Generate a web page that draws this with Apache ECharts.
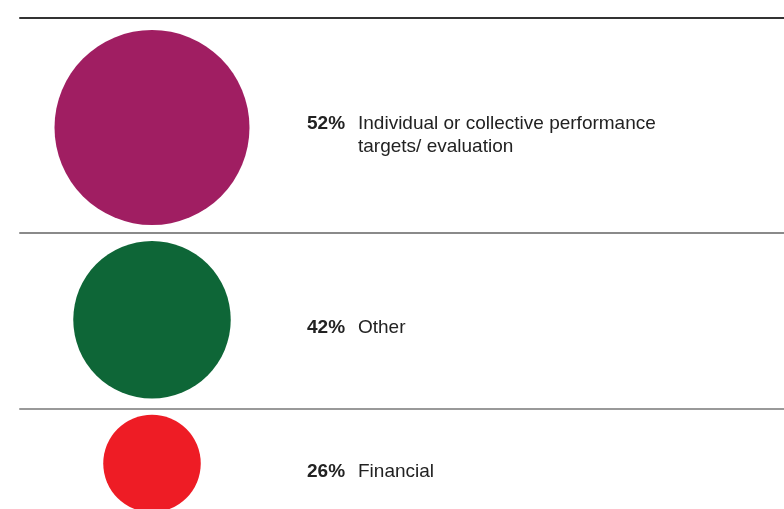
<!DOCTYPE html>
<html><head><meta charset="utf-8">
<script src="https://cdn.jsdelivr.net/npm/echarts@6/dist/echarts.min.js"></script>
<style>html,body{margin:0;padding:0;background:#fff}#c{width:784px;height:509px}</style>
</head><body><div id="c"></div>
<script>
var categories = ['Individual or collective performance\ntargets/ evaluation', 'Other', 'Financial'];
var values = [52, 42, 26];
var colors = ['#A01E62', '#0E6637', '#EE1C25'];
var lineColors = ['#333333', '#8a8a8a', '#999999'];

var circleTops = [30, 241, 418];
var lineTops = [17, 232, 408];
var sizeScale = 3.75;

var chart = echarts.init(document.getElementById('c'));
var grids = [], xAxes = [], yAxes = [], series = [];
for (var i = 0; i < values.length; i++) {
  var d = values[i] * sizeScale;
  // circle grid
  grids.push({left: 56, width: 192, top: circleTops[i], height: d});
  xAxes.push({gridIndex: grids.length - 1, type: 'category', data: [''], show: false});
  yAxes.push({gridIndex: grids.length - 1, type: 'category', data: [categories[i]], position: 'right',
    axisLine: {show: false}, axisTick: {show: false}, splitLine: {show: false},
    axisLabel: {margin: 59, padding: [16, 0, 0, 0], lineHeight: 23,
      formatter: (function (v) {
        return function (name) {
          var parts = name.split('\n');
          var s = '{p|' + v + '%}{t|' + parts[0] + '}';
          for (var k = 1; k < parts.length; k++) s += '\n{s| }{t|' + parts[k] + '}';
          return s;
        };
      })(values[i]),
      rich: {
        p: {fontFamily: 'Liberation Sans', fontSize: 19, fontWeight: 'bold', color: '#222', width: 51, lineHeight: 23},
        t: {fontFamily: 'Liberation Sans', fontSize: 19, color: '#222', lineHeight: 23},
        s: {fontSize: 19, width: 51, lineHeight: 23}
      }
    }});
  series.push({type: 'scatter', xAxisIndex: xAxes.length - 1, yAxisIndex: yAxes.length - 1,
    clip: false, symbol: 'circle', silent: true,
    symbolSize: function (v) { return v[2] * sizeScale; },
    itemStyle: {color: colors[i], opacity: 1},
    data: [[0, 0, values[i]]]});
  // line grid
  grids.push({left: 20, right: 0, top: lineTops[i], height: 1});
  xAxes.push({gridIndex: grids.length - 1, type: 'value', min: 0, max: 1, position: 'top',
    axisLine: {show: true, lineStyle: {color: lineColors[i], width: 2}},
    axisTick: {show: false}, axisLabel: {show: false}, splitLine: {show: false}});
  yAxes.push({gridIndex: grids.length - 1, type: 'value', min: 0, max: 1, show: false});
}
chart.setOption({animation: false, backgroundColor: '#fff', grid: grids, xAxis: xAxes, yAxis: yAxes, series: series});
</script></body></html>
